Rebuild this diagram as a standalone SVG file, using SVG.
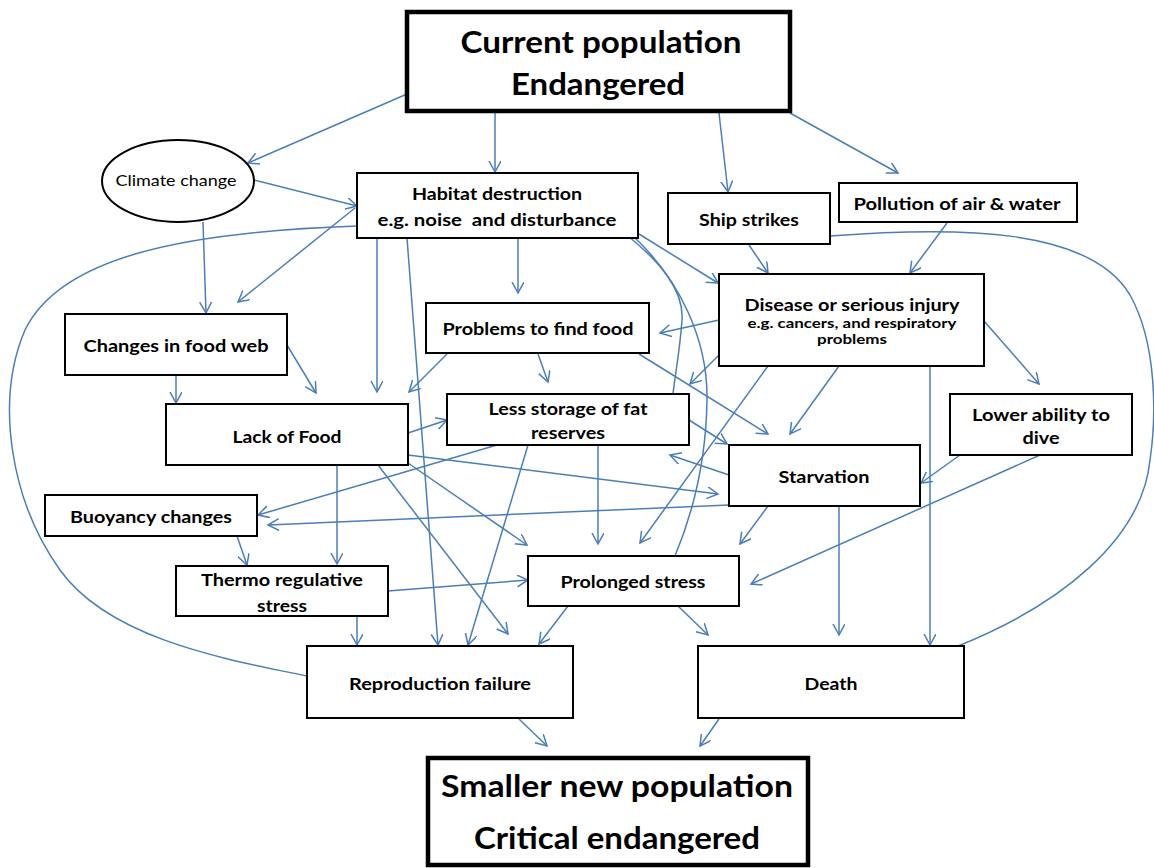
<svg xmlns="http://www.w3.org/2000/svg" width="1154" height="868" viewBox="0 0 1154 868">
<style>
.b{fill:#fff;stroke:#000;stroke-width:2}
.bt{fill:#fff;stroke:#000;stroke-width:4.5}
.t{font-family:Lato,"Liberation Sans",sans-serif;font-weight:700;text-anchor:middle;fill:#000;font-size:17px}
.s{font-size:14px}
.big{font-size:31px}
.n{font-weight:400;font-size:16px}
.c{fill:none;stroke:#4a7ebb;stroke-width:1.5}
.c line,.c path.a{marker-end:url(#ah)}
</style>
<defs>
<marker id="ah" markerUnits="userSpaceOnUse" markerWidth="14" markerHeight="14" refX="11" refY="6" orient="auto">
<path d="M0,0 L11,6 L0,12" fill="none" stroke="#4a7ebb" stroke-width="1.5"/>
</marker>
</defs>
<rect width="1154" height="868" fill="#fff"/>
<g id="connectors" class="c">
<line x1="407" y1="94" x2="248" y2="163"/>
<line x1="495" y1="113" x2="495" y2="172"/>
<line x1="719" y1="113" x2="728" y2="192"/>
<line x1="790" y1="113" x2="898" y2="173"/>
<line x1="254" y1="180" x2="357" y2="206"/>
<line x1="203" y1="222" x2="206" y2="313"/>
<line x1="355" y1="208" x2="238" y2="302"/>
<path d="M357,226 C180,232 60,258 25,330 C-5,400 10,500 60,570 C110,640 230,660 307,676"/>
<line x1="377" y1="238" x2="377" y2="392"/>
<line x1="407" y1="238" x2="438" y2="645"/>
<line x1="518" y1="238" x2="518" y2="293"/>
<line x1="639" y1="234" x2="718" y2="283"/>
<path d="M628,236 C660,262 684,290 682,320 C680,350 675,375 673,394"/>
<path d="M633,236 C680,280 708,340 707,400 C706,470 690,520 675,556"/>
<line x1="749" y1="245" x2="768" y2="273"/>
<path d="M830,236 C960,226 1090,228 1130,295 C1158,345 1156,420 1150,460 C1142,540 1060,605 958,646"/>
<line x1="947" y1="223" x2="910" y2="273"/>
<line x1="719" y1="320" x2="660" y2="333"/>
<line x1="719" y1="355" x2="690" y2="384"/>
<line x1="768" y1="366" x2="640" y2="543"/>
<line x1="839" y1="366" x2="790" y2="434"/>
<line x1="930" y1="366" x2="930" y2="645"/>
<line x1="984" y1="321" x2="1039" y2="384"/>
<line x1="447" y1="354" x2="409" y2="392"/>
<line x1="538" y1="354" x2="548" y2="382"/>
<line x1="639" y1="354" x2="768" y2="434"/>
<line x1="176" y1="375" x2="176" y2="403"/>
<line x1="287" y1="345" x2="316" y2="393"/>
<line x1="408" y1="433" x2="447" y2="420"/>
<line x1="408" y1="455" x2="718" y2="494"/>
<line x1="408" y1="463" x2="527" y2="545"/>
<line x1="378" y1="465" x2="508" y2="634"/>
<line x1="337" y1="465" x2="337" y2="564"/>
<line x1="497" y1="445" x2="258" y2="515"/>
<line x1="528" y1="445" x2="468" y2="645"/>
<line x1="598" y1="445" x2="598" y2="544"/>
<line x1="689" y1="420" x2="727" y2="444"/>
<line x1="729" y1="475" x2="670" y2="455"/>
<line x1="729" y1="505" x2="268" y2="525"/>
<line x1="768" y1="506" x2="740" y2="544"/>
<line x1="839" y1="506" x2="839" y2="635"/>
<line x1="960" y1="455" x2="921" y2="483"/>
<line x1="1040" y1="455" x2="751" y2="584"/>
<line x1="237" y1="536" x2="247" y2="565"/>
<line x1="388" y1="591" x2="528" y2="580"/>
<line x1="357" y1="616" x2="357" y2="645"/>
<line x1="568" y1="606" x2="539" y2="644"/>
<line x1="678" y1="606" x2="708" y2="635"/>
<line x1="519" y1="719" x2="547" y2="746"/>
<line x1="719" y1="719" x2="700" y2="746"/>
</g>
<g id="current-population">
<rect class="bt" x="407" y="12" width="383" height="99"/>
<text class="t big" x="601" y="53" textLength="281" lengthAdjust="spacingAndGlyphs">Current population</text>
<text class="t big" x="598" y="95" textLength="174" lengthAdjust="spacingAndGlyphs">Endangered</text>
</g>
<g id="climate-change">
<ellipse cx="178" cy="181" rx="76" ry="41" fill="#fff" stroke="#000" stroke-width="2"/>
<text class="t n" x="176" y="186" textLength="121" lengthAdjust="spacingAndGlyphs">Climate change</text>
</g>
<g id="habitat-destruction">
<rect class="b" x="357" y="173" width="281" height="65"/>
<text class="t" x="497" y="200" textLength="170" lengthAdjust="spacingAndGlyphs">Habitat destruction</text>
<text class="t" x="497" y="226" textLength="239" lengthAdjust="spacingAndGlyphs" xml:space="preserve">e.g. noise  and disturbance</text>
</g>
<g id="ship-strikes">
<rect class="b" x="668" y="193" width="162" height="51"/>
<text class="t" x="749" y="226" textLength="100" lengthAdjust="spacingAndGlyphs">Ship strikes</text>
</g>
<g id="pollution">
<rect class="b" x="839" y="183" width="238" height="39"/>
<text class="t" x="957" y="210" textLength="207" lengthAdjust="spacingAndGlyphs">Pollution of air &amp; water</text>
</g>
<g id="disease">
<rect class="b" x="719" y="274" width="265" height="92"/>
<text class="t" x="852" y="311" textLength="215" lengthAdjust="spacingAndGlyphs">Disease or serious injury</text>
<text class="t s" x="852" y="328" textLength="209" lengthAdjust="spacingAndGlyphs">e.g. cancers, and respiratory</text>
<text class="t s" x="852" y="344" textLength="70" lengthAdjust="spacingAndGlyphs">problems</text>
</g>
<g id="problems-food">
<rect class="b" x="426" y="303" width="223" height="50"/>
<text class="t" x="538" y="335" textLength="191" lengthAdjust="spacingAndGlyphs">Problems to find food</text>
</g>
<g id="food-web">
<rect class="b" x="65" y="314" width="222" height="61"/>
<text class="t" x="176" y="352" textLength="185" lengthAdjust="spacingAndGlyphs">Changes in food web</text>
</g>
<g id="lack-of-food">
<rect class="b" x="166" y="404" width="242" height="61"/>
<text class="t" x="287" y="443" textLength="109" lengthAdjust="spacingAndGlyphs">Lack of Food</text>
</g>
<g id="less-storage">
<rect class="b" x="447" y="394" width="242" height="51"/>
<text class="t" x="568" y="415" textLength="159" lengthAdjust="spacingAndGlyphs">Less storage of fat</text>
<text class="t" x="568" y="439" textLength="74" lengthAdjust="spacingAndGlyphs">reserves</text>
</g>
<g id="starvation">
<rect class="b" x="729" y="445" width="191" height="61"/>
<text class="t" x="824" y="483" textLength="91" lengthAdjust="spacingAndGlyphs">Starvation</text>
</g>
<g id="lower-ability">
<rect class="b" x="950" y="394" width="182" height="61"/>
<text class="t" x="1041" y="421" textLength="138" lengthAdjust="spacingAndGlyphs">Lower ability to</text>
<text class="t" x="1041" y="444" textLength="37" lengthAdjust="spacingAndGlyphs">dive</text>
</g>
<g id="buoyancy">
<rect class="b" x="45" y="495" width="212" height="41"/>
<text class="t" x="151" y="523" textLength="162" lengthAdjust="spacingAndGlyphs">Buoyancy changes</text>
</g>
<g id="thermo">
<rect class="b" x="176" y="566" width="212" height="50"/>
<text class="t" x="282" y="586" textLength="162" lengthAdjust="spacingAndGlyphs">Thermo regulative</text>
<text class="t" x="282" y="612" textLength="50" lengthAdjust="spacingAndGlyphs">stress</text>
</g>
<g id="prolonged-stress">
<rect class="b" x="528" y="556" width="211" height="50"/>
<text class="t" x="633" y="588" textLength="145" lengthAdjust="spacingAndGlyphs">Prolonged stress</text>
</g>
<g id="reproduction-failure">
<rect class="b" x="307" y="646" width="266" height="72"/>
<text class="t" x="440" y="690" textLength="182" lengthAdjust="spacingAndGlyphs">Reproduction failure</text>
</g>
<g id="death">
<rect class="b" x="698" y="646" width="266" height="72"/>
<text class="t" x="831" y="690" textLength="53" lengthAdjust="spacingAndGlyphs">Death</text>
</g>
<g id="smaller-population">
<rect class="bt" x="428" y="758" width="380" height="107"/>
<text class="t big" x="617" y="797" textLength="352" lengthAdjust="spacingAndGlyphs">Smaller new population</text>
<text class="t big" x="617" y="849" textLength="286" lengthAdjust="spacingAndGlyphs">Critical endangered</text>
</g>
</svg>
